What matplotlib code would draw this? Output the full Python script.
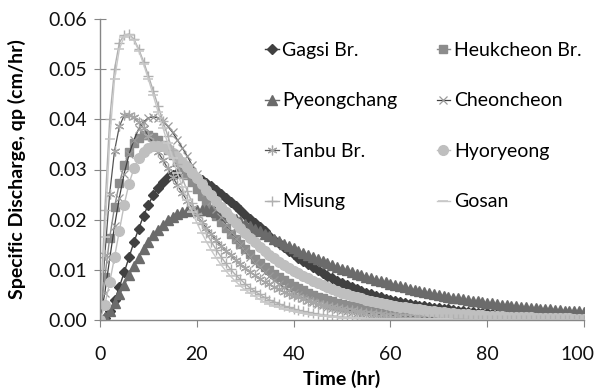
import matplotlib
matplotlib.use('Agg')
import matplotlib.pyplot as plt
import matplotlib.transforms as mtransforms

# Time axis (hr), one ordinate every hour
time_hr = list(range(0, 101))

gagsi = [
    0.0000, 0.0004, 0.0018, 0.0039, 0.0066, 0.0095, 0.0125, 0.0155, 0.0182, 0.0208,
    0.0230, 0.0249, 0.0264, 0.0276, 0.0285, 0.0290, 0.0293, 0.0293, 0.0291, 0.0288,
    0.0284, 0.0279, 0.0274, 0.0267, 0.0260, 0.0252, 0.0244, 0.0236, 0.0228, 0.0219,
    0.0210, 0.0202, 0.0193, 0.0185, 0.0177, 0.0168, 0.0160, 0.0153, 0.0145, 0.0138,
    0.0131, 0.0124, 0.0117, 0.0111, 0.0105, 0.0099, 0.0093, 0.0088, 0.0083, 0.0078,
    0.0074, 0.0069, 0.0065, 0.0061, 0.0057, 0.0054, 0.0051, 0.0048, 0.0045, 0.0042,
    0.0040, 0.0038, 0.0036, 0.0034, 0.0032, 0.0030, 0.0028, 0.0027, 0.0026, 0.0024,
    0.0023, 0.0022, 0.0021, 0.0019, 0.0018, 0.0017, 0.0016, 0.0015, 0.0014, 0.0014,
    0.0013, 0.0012, 0.0011, 0.0011, 0.0010, 0.0009, 0.0009, 0.0008, 0.0008, 0.0007,
    0.0007, 0.0006, 0.0006, 0.0006, 0.0005, 0.0005, 0.0005, 0.0004, 0.0004, 0.0004,
    0.0004]

heukcheon = [
    0.0000, 0.0085, 0.0164, 0.0225, 0.0273, 0.0308, 0.0334, 0.0352, 0.0363, 0.0368,
    0.0368, 0.0364, 0.0358, 0.0349, 0.0339, 0.0328, 0.0315, 0.0302, 0.0289, 0.0275,
    0.0261, 0.0247, 0.0234, 0.0221, 0.0208, 0.0196, 0.0184, 0.0172, 0.0161, 0.0151,
    0.0141, 0.0131, 0.0122, 0.0114, 0.0106, 0.0099, 0.0092, 0.0085, 0.0079, 0.0073,
    0.0068, 0.0063, 0.0059, 0.0054, 0.0050, 0.0046, 0.0043, 0.0040, 0.0037, 0.0034,
    0.0031, 0.0029, 0.0027, 0.0025, 0.0023, 0.0021, 0.0019, 0.0018, 0.0016, 0.0015,
    0.0014, 0.0013, 0.0012, 0.0011, 0.0010, 0.0009, 0.0008, 0.0008, 0.0007, 0.0006,
    0.0006, 0.0005, 0.0005, 0.0005, 0.0004, 0.0004, 0.0004, 0.0003, 0.0003, 0.0003,
    0.0002, 0.0002, 0.0002, 0.0002, 0.0002, 0.0002, 0.0001, 0.0001, 0.0001, 0.0001,
    0.0001, 0.0001, 0.0001, 0.0001, 0.0001, 0.0001, 0.0001, 0.0001, 0.0001, 0.0001,
    0.0001]

pyeongchang = [
    0.0000, 0.0006, 0.0018, 0.0033, 0.0051, 0.0070, 0.0089, 0.0107, 0.0124, 0.0141,
    0.0155, 0.0169, 0.0180, 0.0190, 0.0199, 0.0206, 0.0211, 0.0215, 0.0218, 0.0220,
    0.0220, 0.0220, 0.0219, 0.0217, 0.0215, 0.0212, 0.0209, 0.0205, 0.0201, 0.0197,
    0.0192, 0.0187, 0.0182, 0.0177, 0.0172, 0.0167, 0.0162, 0.0157, 0.0152, 0.0147,
    0.0143, 0.0138, 0.0134, 0.0129, 0.0125, 0.0121, 0.0117, 0.0113, 0.0109, 0.0105,
    0.0102, 0.0099, 0.0095, 0.0092, 0.0089, 0.0086, 0.0083, 0.0080, 0.0077, 0.0075,
    0.0072, 0.0070, 0.0067, 0.0065, 0.0062, 0.0060, 0.0058, 0.0056, 0.0054, 0.0052,
    0.0050, 0.0048, 0.0046, 0.0044, 0.0043, 0.0041, 0.0040, 0.0038, 0.0037, 0.0035,
    0.0034, 0.0033, 0.0031, 0.0030, 0.0029, 0.0028, 0.0027, 0.0026, 0.0025, 0.0024,
    0.0023, 0.0022, 0.0021, 0.0021, 0.0020, 0.0019, 0.0018, 0.0018, 0.0017, 0.0017,
    0.0016]

cheoncheon = [
    0.0000, 0.0054, 0.0122, 0.0187, 0.0244, 0.0292, 0.0330, 0.0359, 0.0381, 0.0395,
    0.0403, 0.0405, 0.0403, 0.0396, 0.0386, 0.0374, 0.0359, 0.0343, 0.0327, 0.0309,
    0.0291, 0.0273, 0.0256, 0.0238, 0.0222, 0.0206, 0.0190, 0.0176, 0.0162, 0.0149,
    0.0137, 0.0125, 0.0114, 0.0105, 0.0096, 0.0087, 0.0079, 0.0072, 0.0065, 0.0059,
    0.0054, 0.0049, 0.0044, 0.0040, 0.0036, 0.0032, 0.0029, 0.0026, 0.0023, 0.0021,
    0.0019, 0.0017, 0.0015, 0.0014, 0.0012, 0.0011, 0.0010, 0.0009, 0.0008, 0.0007,
    0.0007, 0.0006, 0.0005, 0.0005, 0.0004, 0.0004, 0.0003, 0.0003, 0.0003, 0.0002,
    0.0002, 0.0002, 0.0002, 0.0002, 0.0001, 0.0001, 0.0001, 0.0001, 0.0001, 0.0001,
    0.0001, 0.0001, 0.0001, 0.0001, 0.0001, 0.0001, 0.0000, 0.0000, 0.0000, 0.0000,
    0.0000, 0.0000, 0.0000, 0.0000, 0.0000, 0.0000, 0.0000, 0.0000, 0.0000, 0.0000,
    0.0000]

tanbu = [
    0.0000, 0.0130, 0.0252, 0.0337, 0.0386, 0.0408, 0.0409, 0.0404, 0.0394, 0.0382,
    0.0367, 0.0352, 0.0335, 0.0319, 0.0302, 0.0285, 0.0269, 0.0253, 0.0238, 0.0223,
    0.0209, 0.0196, 0.0183, 0.0171, 0.0159, 0.0148, 0.0138, 0.0129, 0.0120, 0.0111,
    0.0103, 0.0096, 0.0089, 0.0082, 0.0076, 0.0071, 0.0066, 0.0061, 0.0056, 0.0052,
    0.0048, 0.0045, 0.0041, 0.0038, 0.0035, 0.0032, 0.0030, 0.0028, 0.0026, 0.0024,
    0.0022, 0.0020, 0.0019, 0.0017, 0.0016, 0.0014, 0.0013, 0.0012, 0.0011, 0.0010,
    0.0010, 0.0009, 0.0008, 0.0008, 0.0007, 0.0007, 0.0006, 0.0006, 0.0005, 0.0005,
    0.0004, 0.0004, 0.0004, 0.0003, 0.0003, 0.0003, 0.0003, 0.0002, 0.0002, 0.0002,
    0.0002, 0.0002, 0.0002, 0.0001, 0.0001, 0.0001, 0.0001, 0.0001, 0.0001, 0.0001,
    0.0001, 0.0001, 0.0001, 0.0001, 0.0001, 0.0001, 0.0001, 0.0001, 0.0001, 0.0001,
    0.0001]

hyoryeong = [
    0.0000, 0.0030, 0.0075, 0.0125, 0.0178, 0.0230, 0.0272, 0.0302, 0.0322, 0.0335,
    0.0342, 0.0346, 0.0347, 0.0346, 0.0340, 0.0333, 0.0325, 0.0315, 0.0305, 0.0294,
    0.0283, 0.0272, 0.0260, 0.0249, 0.0237, 0.0226, 0.0215, 0.0204, 0.0193, 0.0183,
    0.0173, 0.0164, 0.0155, 0.0146, 0.0138, 0.0130, 0.0123, 0.0116, 0.0110, 0.0104,
    0.0098, 0.0093, 0.0088, 0.0083, 0.0078, 0.0073, 0.0069, 0.0065, 0.0061, 0.0058,
    0.0054, 0.0051, 0.0048, 0.0045, 0.0043, 0.0040, 0.0038, 0.0036, 0.0034, 0.0032,
    0.0030, 0.0028, 0.0026, 0.0025, 0.0023, 0.0022, 0.0021, 0.0019, 0.0018, 0.0017,
    0.0016, 0.0015, 0.0014, 0.0013, 0.0012, 0.0012, 0.0011, 0.0010, 0.0010, 0.0009,
    0.0008, 0.0008, 0.0007, 0.0007, 0.0006, 0.0006, 0.0006, 0.0005, 0.0005, 0.0005,
    0.0004, 0.0004, 0.0004, 0.0003, 0.0003, 0.0003, 0.0003, 0.0003, 0.0002, 0.0002,
    0.0002]

misung = [
    0.0000, 0.0220, 0.0400, 0.0500, 0.0553, 0.0568, 0.0570, 0.0560, 0.0540, 0.0515,
    0.0487, 0.0457, 0.0427, 0.0397, 0.0367, 0.0338, 0.0310, 0.0283, 0.0258, 0.0234,
    0.0212, 0.0192, 0.0173, 0.0156, 0.0140, 0.0126, 0.0113, 0.0101, 0.0090, 0.0081,
    0.0072, 0.0064, 0.0057, 0.0051, 0.0045, 0.0040, 0.0036, 0.0032, 0.0028, 0.0025,
    0.0022, 0.0019, 0.0017, 0.0015, 0.0013, 0.0012, 0.0010, 0.0009, 0.0008, 0.0007,
    0.0006, 0.0005, 0.0005, 0.0004, 0.0004, 0.0003, 0.0003, 0.0003, 0.0002, 0.0002,
    0.0002, 0.0002, 0.0001, 0.0001, 0.0001, 0.0001, 0.0001, 0.0001, 0.0001, 0.0001,
    0.0001, 0.0001, 0.0001, 0.0001, 0.0001, 0.0001, 0.0000, 0.0000, 0.0000, 0.0000,
    0.0000, 0.0000, 0.0000, 0.0000, 0.0000, 0.0000, 0.0000, 0.0000, 0.0000, 0.0000,
    0.0000, 0.0000, 0.0000, 0.0000, 0.0000, 0.0000, 0.0000, 0.0000, 0.0000, 0.0000,
    0.0000]

gosan = [
    0.0000, 0.0165, 0.0360, 0.0480, 0.0540, 0.0565, 0.0568, 0.0558, 0.0537, 0.0510,
    0.0480, 0.0448, 0.0415, 0.0383, 0.0352, 0.0322, 0.0293, 0.0266, 0.0240, 0.0216,
    0.0194, 0.0174, 0.0156, 0.0139, 0.0124, 0.0110, 0.0098, 0.0087, 0.0077, 0.0068,
    0.0060, 0.0053, 0.0047, 0.0041, 0.0036, 0.0032, 0.0028, 0.0025, 0.0022, 0.0019,
    0.0017, 0.0015, 0.0013, 0.0011, 0.0010, 0.0009, 0.0008, 0.0007, 0.0006, 0.0005,
    0.0004, 0.0004, 0.0003, 0.0003, 0.0003, 0.0002, 0.0002, 0.0002, 0.0002, 0.0001,
    0.0001, 0.0001, 0.0001, 0.0001, 0.0001, 0.0001, 0.0001, 0.0001, 0.0001, 0.0001,
    0.0001, 0.0001, 0.0001, 0.0000, 0.0000, 0.0000, 0.0000, 0.0000, 0.0000, 0.0000,
    0.0000, 0.0000, 0.0000, 0.0000, 0.0000, 0.0000, 0.0000, 0.0000, 0.0000, 0.0000,
    0.0000, 0.0000, 0.0000, 0.0000, 0.0000, 0.0000, 0.0000, 0.0000, 0.0000, 0.0000,
    0.0000]

x_ticks = [0, 20, 40, 60, 80, 100]
y_ticks = [0.00, 0.01, 0.02, 0.03, 0.04, 0.05, 0.06]

plt.rcParams['font.family'] = ['Lato', 'DejaVu Sans']

fig = plt.figure(figsize=(5.95, 3.91), dpi=100)
ax = fig.add_axes([100 / 595, 1 - 320 / 391, 484 / 595, 301 / 391])

asterisk = (6, 2, 0)
ax.plot(time_hr, gagsi, color='#404040', lw=1.0, marker='D', ms=5.5, label='Gagsi Br.')
ax.plot(time_hr, heukcheon, color='#8c8c8c', lw=1.0, marker='s', ms=6, label='Heukcheon Br.')
ax.plot(time_hr, pyeongchang, color='#6b6b6b', lw=1.0, marker='^', ms=7, label='Pyeongchang')
ax.plot(time_hr, cheoncheon, color='#404040', lw=0.9, marker='x', ms=5.5, mec='#9a9a9a',
        mew=0.9, label='Cheoncheon')
ax.plot(time_hr, tanbu, color='#555555', lw=0.9, marker=asterisk, ms=7, mec='#a6a6a6',
        mew=0.9, label='Tanbu Br.')
ax.plot(time_hr, hyoryeong, color='#bfbfbf', lw=1.0, marker='o', ms=7, label='Hyoryeong')
ax.plot(time_hr, misung, color='#b0b0b0', lw=1.0, marker='+', ms=7, mew=1.0, label='Misung')
ax.plot(time_hr, gosan, color='#c8c8c8', lw=1.0, marker='_', ms=7, mew=1.2, label='Gosan')

ax.set_xlim(0, 100)
ax.set_ylim(0, 0.06)
ax.set_xticks(x_ticks)
ax.set_yticks(y_ticks)
ax.set_yticklabels(['%.2f' % v for v in y_ticks])

for side in ['top', 'right']:
    ax.spines[side].set_visible(False)
for side in ['left', 'bottom']:
    ax.spines[side].set_color('#868686')
    ax.spines[side].set_linewidth(1.0)
ax.tick_params(axis='y', direction='inout', length=9, color='#868686', labelsize=14,
               pad=5, labelcolor='#111111')
ax.tick_params(axis='x', direction='out', length=5, color='#868686', labelsize=14,
               pad=14, labelcolor='#111111')

# keep the "100" label inside the picture, like the spreadsheet does
last = ax.get_xticklabels()[-1]
last.set_transform(last.get_transform() +
                   mtransforms.ScaledTranslation(-7 / 100, 0, fig.dpi_scale_trans))

ax.set_xlabel('Time (hr)', fontsize=14, fontweight='bold', labelpad=5)
ax.set_ylabel('Specific Discharge, qp (cm/hr)', fontsize=14, fontweight='bold', labelpad=16)

# row-wise legend order (two columns)
handles, labels = ax.get_legend_handles_labels()
order = [0, 2, 4, 6, 1, 3, 5, 7]
leg = ax.legend([handles[i] for i in order], [labels[i] for i in order],
                ncol=2, loc='upper left', bbox_to_anchor=(265 / 595, 1 - 42 / 391),
                bbox_transform=fig.transFigure, frameon=False, fontsize=14,
                handlelength=0.7, handletextpad=0.2, columnspacing=2.0,
                labelspacing=1.72, borderpad=0, borderaxespad=0, markerscale=1.0)

fig.savefig('out.png', dpi=100)
